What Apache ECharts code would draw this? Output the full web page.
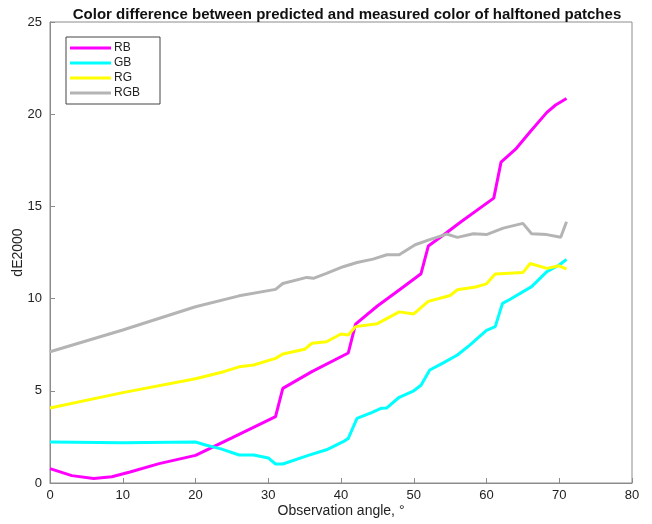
<!DOCTYPE html>
<html>
<head>
<meta charset="utf-8">
<script src="https://cdn.jsdelivr.net/npm/echarts@6/dist/echarts.min.js"></script>
<style>html,body{margin:0;padding:0;background:#fff;}#c{width:652px;height:524px;}</style>
</head>
<body>
<div id="c"></div>
<script>
const titleText = 'Color difference between predicted and measured color of halftoned patches';
const xName = 'Observation angle, °';
const yName = 'dE2000';
const seriesNames = ['RB', 'GB', 'RG', 'RGB'];

const rbX = [0, 3, 6, 8.5, 11, 15, 20, 25, 31, 32, 36, 41, 42, 45, 48, 51, 52, 54.5, 56.5, 61, 62, 64, 66, 68.3, 69.5, 71];
const rbY = [0.78, 0.4, 0.25, 0.34, 0.6, 1.05, 1.5, 2.45, 3.6, 5.13, 6.04, 7.05, 8.62, 9.6, 10.47, 11.35, 12.85, 13.57, 14.17, 15.45, 17.4, 18.1, 19.05, 20.1, 20.5, 20.85];

const gbX = [0, 10, 20, 21.5, 23.5, 26, 28, 30, 31, 32, 35.5, 38, 40.3, 41, 42.2, 44.2, 45.5, 46.3, 48, 50, 51, 52.2, 54, 56, 57.7, 60, 61.2, 62.2, 63.2, 66.2, 68.3, 70, 71];
const gbY = [2.22, 2.18, 2.22, 2.05, 1.85, 1.52, 1.52, 1.36, 1.03, 1.03, 1.5, 1.8, 2.24, 2.42, 3.5, 3.82, 4.05, 4.07, 4.65, 5.0, 5.3, 6.13, 6.5, 6.94, 7.48, 8.28, 8.48, 9.74, 9.95, 10.65, 11.46, 11.82, 12.13];

const rgX = [0, 10, 20, 24, 26, 28, 31, 32, 35, 36, 38, 40, 41, 42, 45, 48, 50, 52, 55, 56, 58.5, 60, 61.2, 65, 66, 68.3, 70, 71];
const rgY = [4.07, 4.9, 5.65, 6.05, 6.3, 6.4, 6.76, 7.0, 7.25, 7.58, 7.66, 8.08, 8.03, 8.48, 8.64, 9.28, 9.17, 9.85, 10.17, 10.48, 10.63, 10.8, 11.33, 11.41, 11.9, 11.64, 11.78, 11.6];

const rgbX = [0, 10, 20, 26, 31, 32, 35.3, 36.2, 38, 40.3, 42.2, 44.4, 46.3, 48, 50.2, 52.2, 54.5, 56, 58.2, 60, 62.3, 65, 66.2, 68.3, 70.2, 71];
const rgbY = [7.12, 8.3, 9.56, 10.15, 10.5, 10.82, 11.15, 11.1, 11.37, 11.73, 11.96, 12.14, 12.38, 12.38, 12.92, 13.2, 13.5, 13.32, 13.52, 13.47, 13.82, 14.08, 13.52, 13.47, 13.33, 14.17];

const colors = ['#ff00ff', '#00ffff', '#ffff00', '#b4b4b4'];

function pairs(xs, ys) { return xs.map((x, i) => [x, ys[i]]); }
const dataSets = [pairs(rbX, rbY), pairs(gbX, gbY), pairs(rgX, rgY), pairs(rgbX, rgbY)];

const chart = echarts.init(document.getElementById('c'), null, { renderer: 'canvas' });
const axisColor = '#8c8c8c';
const font = 'Liberation Sans, Arial, sans-serif';
chart.setOption({
  animation: false,
  backgroundColor: '#ffffff',
  title: {
    text: titleText,
    left: 342, top: 2, textAlign: 'center',
    textStyle: { fontFamily: font, fontWeight: 'bold', fontSize: 15, color: '#111' }
  },
  grid: { left: 50, right: 20, top: 22, bottom: 41, show: true, borderColor: axisColor, borderWidth: 1, backgroundColor: 'transparent', containLabel: false, outerBoundsMode: 'none' },
  legend: {
    data: seriesNames,
    orient: 'vertical', left: 66, top: 37,
    icon: 'rect',
    itemWidth: 41, itemHeight: 3, itemGap: 3,
    padding: [5, 20, 5, 4],
    borderColor: '#444', borderWidth: 1, backgroundColor: '#fff',
    textStyle: { fontFamily: font, fontSize: 12, color: '#222', padding: [0, 0, 0, -2] }
  },
  xAxis: {
    type: 'value', min: 0, max: 80, interval: 10,
    name: xName, nameLocation: 'middle', nameGap: 21, nameMoveOverlap: false,
    nameTextStyle: { fontFamily: font, fontSize: 14, color: '#222' },
    axisLine: { lineStyle: { color: axisColor } },
    axisTick: { inside: true, length: 5, lineStyle: { color: axisColor } },
    axisLabel: { fontFamily: font, fontSize: 13, color: '#222', margin: 6 },
    splitLine: { show: false }
  },
  yAxis: {
    type: 'value', min: 0, max: 25, interval: 5,
    name: yName, nameLocation: 'middle', nameGap: 25, nameMoveOverlap: false,
    nameTextStyle: { fontFamily: font, fontSize: 14, color: '#222' },
    axisLine: { show: true, lineStyle: { color: axisColor } },
    axisTick: { show: true, inside: true, length: 5, lineStyle: { color: axisColor } },
    axisLabel: { fontFamily: font, fontSize: 13, color: '#222', margin: 8 },
    splitLine: { show: false }
  },
  series: seriesNames.map((n, i) => ({
    name: n, type: 'line', data: dataSets[i],
    showSymbol: false, symbol: 'none',
    lineStyle: { color: colors[i], width: 3 },
    itemStyle: { color: colors[i] },
    z: 2 + i
  }))
});
</script>
</body>
</html>
